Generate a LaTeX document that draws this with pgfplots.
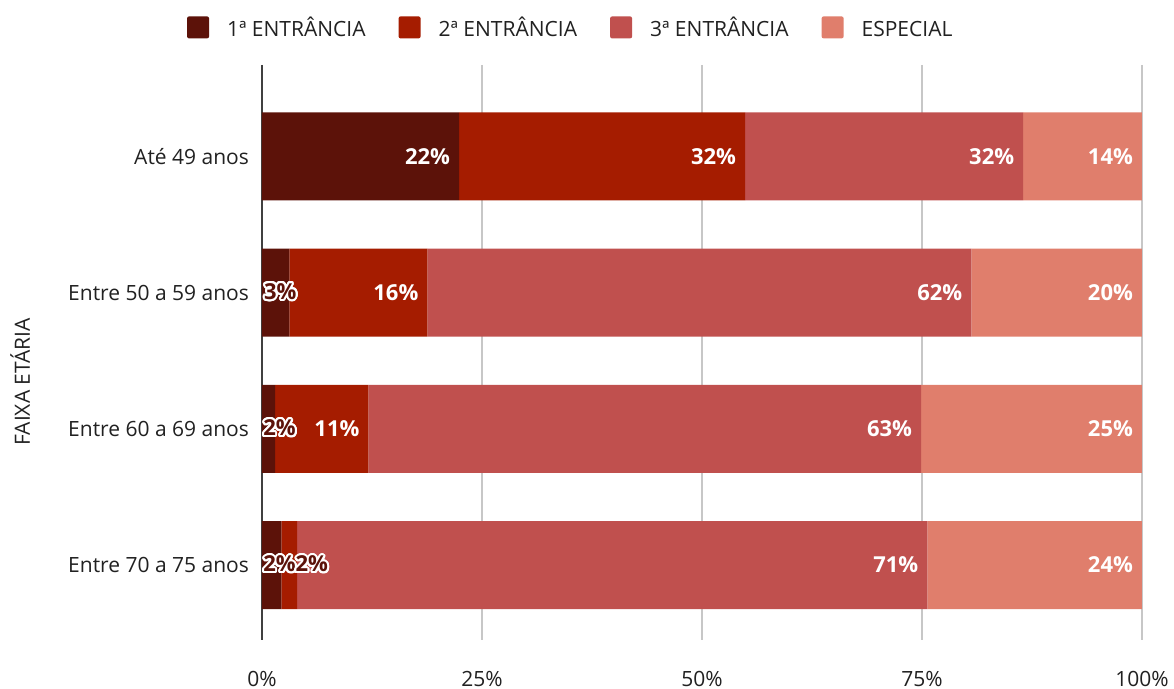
\documentclass[border=0pt]{standalone}
\usepackage{pgfplots}
\pgfplotsset{compat=1.18}
\usepackage{fontspec}
\setmainfont{Open Sans}
\usepackage[copies]{contour}
\contournumber{24}
\contourlength{1pt}

\definecolor{c1}{HTML}{5C1209}
\definecolor{c2}{HTML}{A51C00}
\definecolor{c3}{HTML}{C0504E}
\definecolor{c4}{HTML}{E07E6C}
\definecolor{txt}{HTML}{212121}

\begin{document}
\begin{tikzpicture}
\useasboundingbox (-131pt,-24.5pt) rectangle (456pt,320pt);
\begin{axis}[
    xbar stacked,
    scale only axis,
    width=440pt, height=287.5pt,
    bar width=44pt,
    xmin=0, xmax=100,
    ymin=-0.67, ymax=3.55,
    y dir=reverse,
    font=\fontsize{10.5}{12}\selectfont,
    ytick={0,1,2,3},
    yticklabels={Até 49 anos, Entre 50 a 59 anos, Entre 60 a 69 anos, Entre 70 a 75 anos},
    xtick={0,25,50,75,100},
    xticklabels={0\%,25\%,50\%,75\%,100\%},
    major tick length=0pt,
    xticklabel style={yshift=-12pt, text=txt},
    yticklabel style={xshift=-3pt, text=txt},
    axis lines*=left,
    x axis line style={draw=none},
    y axis line style={draw=black!75, line width=0.8pt},
    xmajorgrids,
    grid style={draw=black!22, line width=0.6pt},
    ylabel={FAIXA ETÁRIA},
    every axis y label/.style={at={(rel axis cs:-0.275,0.449)}, rotate=90, anchor=center, text=txt},
    legend columns=4,
    legend style={draw=none, at={(rel axis cs:0.352,1)}, anchor=center, yshift=19.5pt,
        nodes={text height=2.3ex, text depth=0.3ex},
        /tikz/every odd column/.append style={column sep=7pt},
        /tikz/every even column/.append style={column sep=14.5pt}, text=txt},
    legend image code/.code={\fill[#1, rounded corners=1pt] (0pt,-6.2pt) rectangle (11pt,4.8pt);},
    legend cell align=left,
    nodes near coords,
    point meta=explicit symbolic,
    visualization depends on=rawx \as \rawx,
    every node near coord/.append style={anchor=east, xshift={\rawx*2.2pt-1pt}, text=white, font=\fontsize{11}{12}\selectfont\bfseries},
]
\addplot[fill=c1, draw=none] coordinates {(22.4,0)[22\%] (3.1,1)[] (1.5,2)[] (2.2,3)[]};
\addplot[fill=c2, draw=none] coordinates {(32.5,0)[32\%] (15.7,1)[16\%] (10.6,2)[11\%] (1.8,3)[]};
\addplot[fill=c3, draw=none] coordinates {(31.6,0)[32\%] (61.8,1)[62\%] (62.8,2)[63\%] (71.6,3)[71\%]};
\addplot[fill=c4, draw=none] coordinates {(13.5,0)[14\%] (19.4,1)[20\%] (25.1,2)[25\%] (24.4,3)[24\%]};
\legend{1ª ENTRÂNCIA, 2ª ENTRÂNCIA, 3ª ENTRÂNCIA, ESPECIAL}
\coordinate (s1) at (axis cs:0.2,1);
\coordinate (s2) at (axis cs:0.1,2);
\coordinate (s3) at (axis cs:0.1,3);
\end{axis}
\begin{scope}[every node/.style={anchor=west, inner sep=0pt, text=c1, font=\fontsize{11}{12}\selectfont\bfseries}]
\node at (s1) {\contour{white}{3\%}};
\node at (s2) {\contour{white}{2\%}};
\node at (s3) {\contour{white}{2\%}\contour{white}{2\%}};
\end{scope}
\end{tikzpicture}
\end{document}
